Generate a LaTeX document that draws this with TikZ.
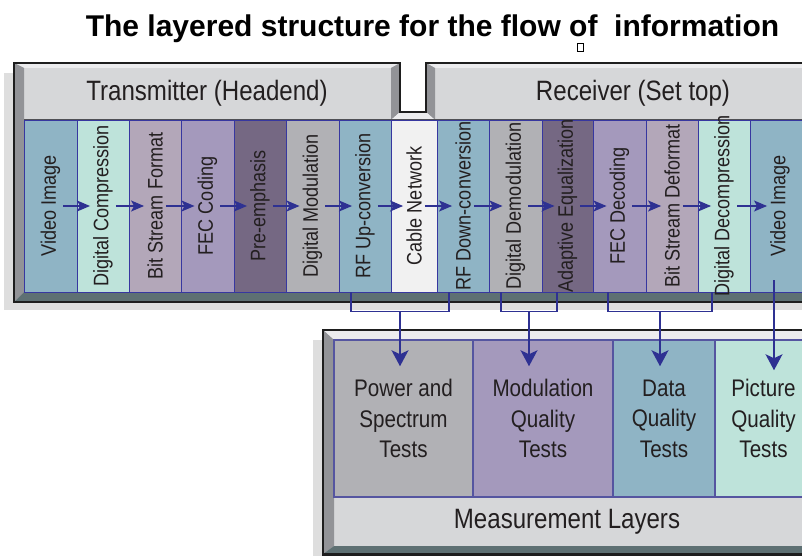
\documentclass[tikz,border=0pt]{standalone}
\usepackage{fontspec}
\setmainfont{Liberation Sans}
\newfontfamily\nf[FakeStretch=0.86]{Liberation Sans}
\usetikzlibrary{arrows.meta,calc}
\definecolor{cVid}{RGB}{143,180,197}
\definecolor{cMint}{RGB}{190,227,218}
\definecolor{cMauve}{RGB}{179,167,185}
\definecolor{cLav}{RGB}{164,153,188}
\definecolor{cDark}{RGB}{117,104,131}
\definecolor{cGray}{RGB}{177,177,181}
\definecolor{cWhite}{RGB}{241,241,241}
\definecolor{cShadow}{RGB}{222,222,222}
\definecolor{cHdr}{RGB}{214,215,217}
\definecolor{cTopBev}{RGB}{236,236,238}
\definecolor{cSideBev}{RGB}{146,147,151}
\definecolor{cBotBev}{RGB}{94,112,115}
\definecolor{cFrame}{RGB}{30,30,30}
\definecolor{cDarkLine}{RGB}{80,80,85}
\definecolor{cEdge}{RGB}{55,55,160}
\definecolor{cMEdge}{RGB}{85,85,160}
\definecolor{cLine}{RGB}{46,49,146}
\definecolor{cTxt}{RGB}{35,31,32}
\begin{document}
\begin{tikzpicture}[x=1pt,y=-1pt,
  colbox/.style={draw=cEdge, line width=0.9pt, minimum height=172pt, inner sep=0pt},
  coltext/.style={rotate=90, font=\nf\fontsize{21}{24}\selectfont, text=cTxt, inner sep=3pt},
  tarrow/.style={draw=cLine, line width=1.2pt, -{Stealth[length=13pt,width=11pt,inset=3pt]}},
  mline/.style={draw=cLine, line width=1.4pt},
  marrow/.style={draw=cLine, line width=1.4pt, -{Stealth[length=16pt,width=17pt,inset=4pt]}},
  mbox/.style={draw=cMEdge, line width=1.5pt, minimum height=157pt, inner sep=0pt, align=center, font=\nf\fontsize{24}{30.5}\selectfont, text=cTxt},
  hdr/.style={font=\nf\fontsize{28}{30}\selectfont, text=cTxt},
  panelline/.style={draw=cFrame, line width=2.5pt},
]
\useasboundingbox (0,0) rectangle (802,556);
\clip (0,0) rectangle (802,556);

% title
\node[font=\bfseries\fontsize{30}{34}\selectfont, anchor=base] (title) at (432.5,37) {The layered structure for the flow of\ \ information};
\node[draw=black, line width=0.8pt, minimum width=6pt, minimum height=8pt, inner sep=0pt] (tofu) at (580,47.5) {};

% shadows
\fill[cShadow] (4,73) rectangle (14,310);
\fill[cShadow] (4,302) rectangle (812,310);
\fill[cShadow] (313,340) rectangle (323,556);

% top panel
\fill[cHdr] (14,302) -- (14,63) -- (400,63) -- (400,112) -- (426,112) -- (426,63) -- (812,63) -- (812,302) -- cycle;
\fill[cTopBev] (14,63) -- (400,63) -- (391,68) -- (24,68) -- cycle;
\fill[cTopBev] (426,63) -- (812,63) -- (812,68) -- (435,68) -- cycle;
\fill[cSideBev] (14,63) -- (24,68) -- (24,292) -- (14,302) -- cycle;
\fill[cSideBev] (400,63) -- (400,112) -- (391,120) -- (391,68) -- cycle;
\fill[cSideBev] (426,63) -- (435,68) -- (435,120) -- (426,112) -- cycle;
\fill[cTopBev] (400,112) -- (426,112) -- (435,120) -- (391,120) -- cycle;
\fill[cBotBev] (14,302) -- (24,292) -- (812,292) -- (812,302) -- cycle;
\draw[panelline] (812,302) -- (14,302) -- (14,63) -- (400,63) -- (400,112) -- (426,112) -- (426,63) -- (812,63);
\draw[cDarkLine, line width=1.5pt] (24,120) -- (812,120);

\node[hdr] (tx) at (207,93) {Transmitter (Headend)};
\node[hdr] (rx) at (633,93) {Receiver (Set top)};

% blocks
\foreach \i/\xa/\xb/\col/\txt in {
  1/24/77/cVid/Video Image,
  2/77/129/cMint/Digital Compression,
  3/129/181/cMauve/Bit Stream Format,
  4/181/234/cLav/FEC Coding,
  5/234/286/cDark/Pre-emphasis,
  6/286/339/cGray/Digital Modulation,
  7/339/391/cVid/RF Up-conversion,
  8/391/437/cWhite/Cable Network,
  9/437/489/cVid/RF Down-conversion,
  10/489/542/cGray/Digital Demodulation,
  11/542/593/cDark/Adaptive Equalization,
  12/593/646/cLav/FEC Decoding,
  13/646/698/cMauve/Bit Stream Deformat,
  14/698/750/cMint/Digital Decompression,
  15/750/810/cVid/Video Image}{
  \node[colbox, fill=\col, minimum width={(\xb-\xa)*1pt}] (c\i) at ({(\xa+\xb)/2},206) {};
  \node[coltext] (t\i) at (c\i.center) {\txt};
}
\foreach \i [evaluate=\i as \j using int(\i+1)] in {1,...,14}
  \draw[tarrow] (t\i.south) -- (t\j.north);

% measurement panel
\fill[cHdr] (323,330) rectangle (812,554);
\fill[cTopBev] (323,330) -- (812,330) -- (812,340) -- (334,340) -- cycle;
\fill[cSideBev] (323,330) -- (334,340) -- (334,546) -- (323,554) -- cycle;
\fill[cBotBev] (323,554) -- (334,546) -- (812,546) -- (812,554) -- cycle;
\draw[panelline] (812,554.5) -- (323,554.5) -- (323,330) -- (812,330);

\node[mbox, fill=cGray, minimum width=139pt] (m1) at (403.5,418.5) {Power and\\Spectrum\\Tests};
\node[mbox, fill=cLav, minimum width=140pt] (m2) at (543,418.5) {Modulation\\Quality\\Tests};
\node[mbox, fill=cVid, minimum width=102pt] (m3) at (664,418.5) {Data\\Quality\\Tests};
\node[mbox, fill=cMint, minimum width=97pt] (m4) at (763.5,418.5) {Picture\\Quality\\Tests};
\node[hdr] (ml) at (567,522) {Measurement Layers};

% brackets and arrows to the measurement layers
\coordinate (tipy) at ([yshift=-27pt]m1.north);
\coordinate (b1a) at ([xshift=-14pt]c7.south);
\coordinate (b1z) at ([xshift=-14pt]c9.south);
\draw[mline] (b1a) -- ++(0,19) coordinate (b1l) -| (b1z);
\coordinate (b1r) at (b1l -| b1z);
\draw[marrow] ($(b1l)!0.5!(b1r)$) coordinate (b1m) -- (b1m |- tipy);

\coordinate (b2a) at ([xshift=-14.5pt]c10.south);
\coordinate (b2z) at ([xshift=-10.5pt]c11.south);
\draw[mline] (b2a) -- ++(0,19) coordinate (b2l) -| (b2z);
\coordinate (b2r) at (b2l -| b2z);
\draw[marrow] ($(b2l)!0.5!(b2r)$) coordinate (b2m) -- (b2m |- tipy);

\coordinate (b3a) at ([xshift=-11.5pt]c12.south);
\coordinate (b3z) at ([xshift=-12pt]c14.south);
\draw[mline] (b3a) -- ++(0,19) coordinate (b3l) -| (b3z);
\coordinate (b3r) at (b3l -| b3z);
\draw[marrow] ($(b3l)!0.5!(b3r)$) coordinate (b3m) -- (b3m |- tipy);

\coordinate (tip4) at ([yshift=-31pt]m4.north);
\coordinate (b4) at ([xshift=-6pt,yshift=12pt]c15.south);
\draw[marrow] (b4) -- (b4 |- tip4);
\end{tikzpicture}
\end{document}
